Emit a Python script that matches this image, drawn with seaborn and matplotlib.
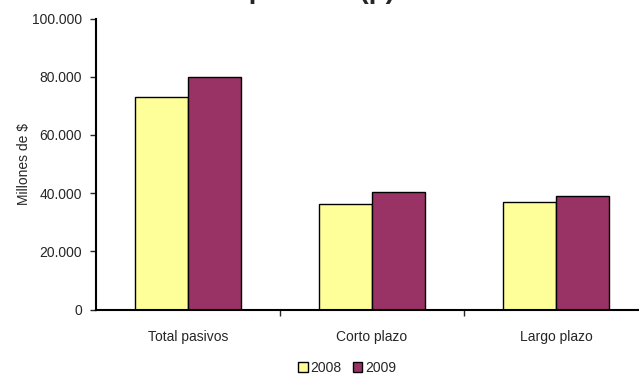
import matplotlib
matplotlib.use('Agg')
import matplotlib.pyplot as plt
import matplotlib.ticker as mticker
import pandas as pd
import seaborn as sns

categories = ['Total pasivos', 'Corto plazo', 'Largo plazo']
years = ['2008', '2009']
values_2008 = [72900, 36400, 36800]
values_2009 = [79900, 40500, 39100]
title_text = 'Stock de pasivos (p)'

COLORS = {'2008': '#FFFF99', '2009': '#993366'}

sns.set_style('white')
plt.rcParams['font.family'] = ['Liberation Sans', 'DejaVu Sans']

df = pd.DataFrame({
    'categoria': categories * 2,
    'anio': ['2008'] * 3 + ['2009'] * 3,
    'valor': values_2008 + values_2009,
})

fig = plt.figure(figsize=(6.39, 3.77), dpi=100)
ax = fig.add_axes([96 / 639, 67.5 / 377, 552 / 639, 291 / 377])

sns.barplot(data=df, x='categoria', y='valor', hue='anio', hue_order=years,
            palette=COLORS, width=0.573, edgecolor='black', linewidth=1.0,
            saturation=1, errorbar=None, ax=ax, legend=True)

ax.set_xlim(-0.5, 2.5)
ax.set_ylim(0, 100000)
ax.set_yticks(range(0, 100001, 20000))
ax.yaxis.set_major_formatter(mticker.FuncFormatter(lambda v, p: f'{v:,.0f}'.replace(',', '.')))
ax.set_xticks([0, 1, 2])
ax.set_xticks([0.5, 1.5], minor=True)
ax.tick_params(axis='x', which='major', length=0, labelsize=10, pad=15)
ax.tick_params(axis='x', which='minor', length=4, width=1, direction='out', bottom=True)
ax.tick_params(axis='y', length=4, width=1, direction='out', left=True, labelsize=10, pad=6)

ax.set_xlabel('')
ax.set_ylabel('Millones de $', fontsize=10, labelpad=1)

for s in ['top', 'right']:
    ax.spines[s].set_visible(False)
for s in ['left', 'bottom']:
    ax.spines[s].set_color('black')
    ax.spines[s].set_linewidth(1.5)

ax.legend_.remove()
handles, labels = ax.get_legend_handles_labels()
fig.legend(handles, labels, loc='center', bbox_to_anchor=(347 / 639, 1 - 368 / 377),
           ncol=2, frameon=False, fontsize=10, handlelength=0.7, handleheight=0.7,
           handletextpad=0.2, columnspacing=0.8)

# title is mostly cropped off in the source image
fig.text(260 / 639, 1 + 1.5 / 377, title_text, ha='center', va='baseline',
         fontsize=20, fontweight='bold')

fig.savefig('out.png', dpi=100)
